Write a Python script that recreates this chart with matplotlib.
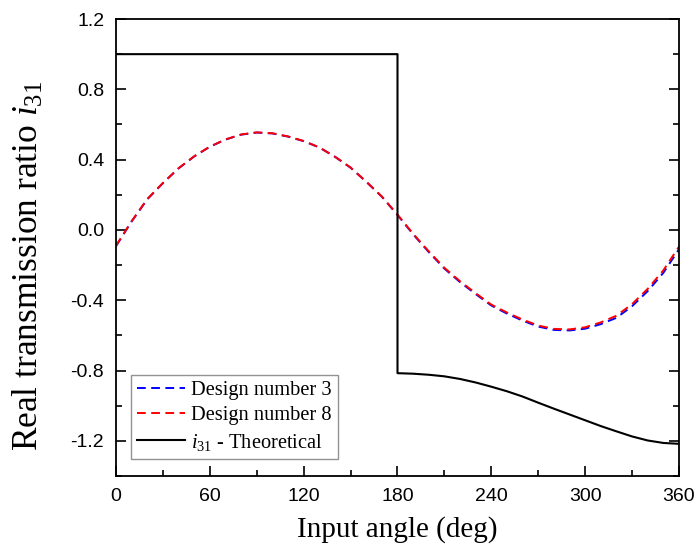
import matplotlib
matplotlib.use("Agg")
import matplotlib.pyplot as plt
from matplotlib.ticker import MultipleLocator

plt.rcParams['mathtext.fontset'] = 'custom'
plt.rcParams['mathtext.rm'] = 'Liberation Serif'
plt.rcParams['mathtext.it'] = 'Liberation Serif:italic'

# input angle grid for the two designs (deg)
angle = [0, 10, 20, 30, 40, 50, 60, 70, 80, 90, 100, 110, 120, 130, 140, 150, 160, 170, 180,
         190, 200, 210, 220, 230, 240, 250, 260, 270, 280, 290, 300, 310, 320, 330, 340, 350, 360]

design8 = [-0.090, 0.050, 0.176, 0.267, 0.351, 0.419, 0.474, 0.515, 0.543, 0.555, 0.550, 0.532, 0.506,
           0.470, 0.417, 0.355, 0.275, 0.190, 0.087, -0.022, -0.122, -0.216, -0.292, -0.360, -0.425,
           -0.470, -0.510, -0.544, -0.563, -0.566, -0.554, -0.526, -0.488, -0.422, -0.335, -0.230, -0.095]

design3 = [-0.092, 0.048, 0.174, 0.266, 0.350, 0.418, 0.473, 0.514, 0.542, 0.554, 0.549, 0.531, 0.505,
           0.469, 0.416, 0.354, 0.274, 0.189, 0.085, -0.025, -0.126, -0.220, -0.297, -0.365, -0.430,
           -0.476, -0.516, -0.550, -0.569, -0.572, -0.562, -0.536, -0.500, -0.434, -0.348, -0.244, -0.110]

# theoretical ratio, jumps at 180 deg
theo_angle = [0, 180, 180, 190, 200, 210, 220, 230, 240, 250, 260, 270, 280, 290, 300, 310, 320,
              330, 340, 350, 360]
theo = [1.0, 1.0, -0.815, -0.818, -0.824, -0.833, -0.848, -0.868, -0.892, -0.918, -0.948, -0.983,
        -1.017, -1.050, -1.083, -1.116, -1.146, -1.175, -1.198, -1.212, -1.217]

fig = plt.figure(figsize=(7, 5.54), dpi=100)
ax = fig.add_axes([0.1657, 0.1408, 0.8043, 0.8249])

ax.plot(angle, design3, color='blue', lw=1.4, dashes=(4.5, 2.8), label='Design number 3')
ax.plot(angle, design8, color='red', lw=1.4, dashes=(4.5, 2.8), label='Design number 8')
ax.plot(theo_angle, theo, color='black', lw=1.5, label='$i_{31}$ - Theoretical')

ax.set_xlim(0, 360)
ax.set_ylim(-1.4, 1.2)
ax.xaxis.set_major_locator(MultipleLocator(60))
ax.xaxis.set_minor_locator(MultipleLocator(30))
ax.yaxis.set_major_locator(MultipleLocator(0.4))
ax.yaxis.set_minor_locator(MultipleLocator(0.2))
ax.yaxis.set_major_formatter(matplotlib.ticker.FormatStrFormatter('%.1f'))

ax.tick_params(which='both', direction='in', top=False, right=True, width=1.2,
               labelsize=14, pad=8.5)
ax.tick_params(which='major', length=7)
ax.tick_params(which='minor', length=4)
for lab in ax.get_xticklabels() + ax.get_yticklabels():
    lab.set_family('Liberation Sans')
for sp in ax.spines.values():
    sp.set_linewidth(1.3)

ax.set_xlabel('Input angle (deg)', family='Liberation Serif', fontsize=21, labelpad=8)
ax.set_ylabel('Real transmission ratio $i_{31}$', family='Liberation Serif', fontsize=25.5)
ax.yaxis.set_label_coords(-0.125, 0.46)

leg = ax.legend(loc='lower left', bbox_to_anchor=(0.026, 0.038), fancybox=False,
                prop={'family': 'Liberation Serif', 'size': 14.7}, handlelength=2.35,
                borderpad=0.3, labelspacing=0.3, handletextpad=0.3, borderaxespad=0)
leg.get_frame().set_edgecolor('#777777')
leg.get_frame().set_linewidth(1.0)

fig.savefig('out.png', dpi=100)
